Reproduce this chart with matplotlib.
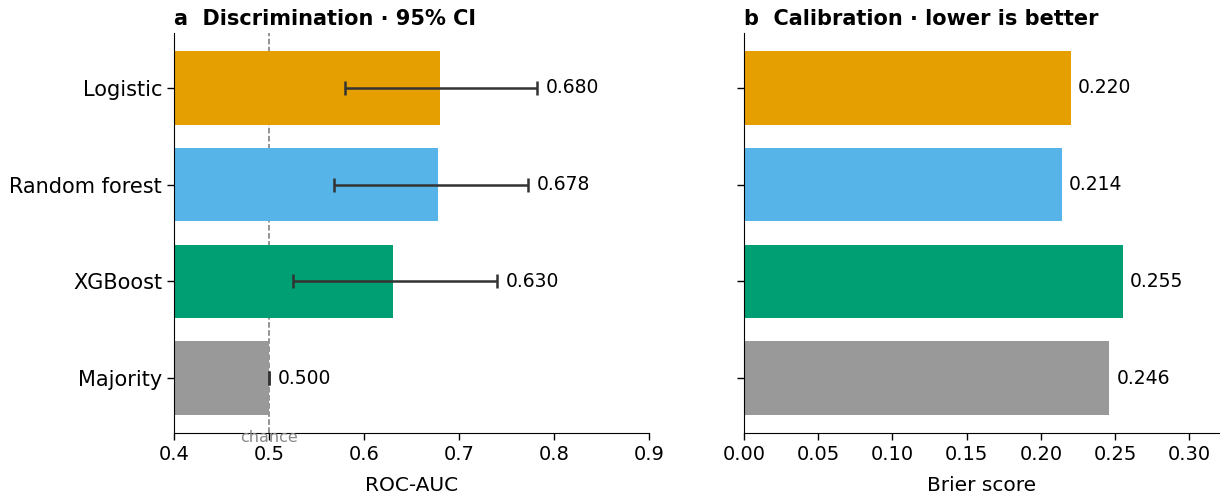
import matplotlib
matplotlib.use("Agg")
import matplotlib.pyplot as plt
import numpy as np

models = ["Logistic", "Random forest", "XGBoost", "Majority"]
auc = [0.680, 0.678, 0.630, 0.500]
ci_low = [0.580, 0.568, 0.525, 0.500]
ci_high = [0.782, 0.773, 0.740, 0.500]
brier = [0.220, 0.214, 0.255, 0.246]
colors = ["#E69F00", "#56B4E9", "#009E73", "#999999"]

fig = plt.figure(figsize=(12.25, 4.99), dpi=100)
ax1 = fig.add_axes([174/1225, 1-433/499, 475/1225, 400/499])
ax2 = fig.add_axes([744/1225, 1-433/499, 475/1225, 400/499])

y = np.arange(len(models))
auc_a = np.array(auc)
lo = auc_a - np.array(ci_low)
hi = np.array(ci_high) - auc_a

ax1.axvline(0.5, color="#777777", ls="--", lw=1.1, zorder=0)
ax1.barh(y, auc, height=0.76, color=colors, zorder=2)
ax1.errorbar(auc, y, xerr=[lo, hi], fmt="none", ecolor="#333333",
             elinewidth=1.8, capsize=5, capthick=1.8, zorder=3)
for yi, v, h in zip(y, auc, ci_high):
    ax1.text(h + 0.009, yi, f"{v:.3f}", va="center", ha="left", fontsize=13.5)
ax1.set_xlim(0.4, 0.9)
ax1.set_yticks(y)
ax1.set_yticklabels(models, fontsize=15)
ax1.invert_yaxis()
ax1.set_xlabel("ROC-AUC", fontsize=14.5, labelpad=9)
ax1.tick_params(axis="x", labelsize=14)
ax1.set_title("a  Discrimination · 95% CI", loc="left", fontweight="bold", fontsize=15, pad=6)
ylo = ax1.get_ylim()[0]
ax1.annotate("chance", xy=(0.5, ylo), xytext=(0, -3), textcoords="offset points",
             ha="center", va="center", color="#888888", fontsize=11.5,
             zorder=5, annotation_clip=False)

ax2.barh(y, brier, height=0.76, color=colors, zorder=2)
for yi, v in zip(y, brier):
    ax2.text(v + 0.005, yi, f"{v:.3f}", va="center", ha="left", fontsize=13.5)
ax2.set_xlim(0, 0.32)
ax2.set_xticks([0, 0.05, 0.10, 0.15, 0.20, 0.25, 0.30])
ax2.set_xticklabels(["0.00", "0.05", "0.10", "0.15", "0.20", "0.25", "0.30"])
ax2.set_yticks(y)
ax2.set_yticklabels([])
ax2.set_ylim(ax1.get_ylim())
ax2.set_xlabel("Brier score", fontsize=14.5, labelpad=9)
ax2.tick_params(axis="x", labelsize=14)
ax2.set_title("b  Calibration · lower is better", loc="left", fontweight="bold", fontsize=15, pad=6)

for ax in (ax1, ax2):
    ax.spines["top"].set_visible(False)
    ax.spines["right"].set_visible(False)
    ax.tick_params(length=5, width=1)

fig.savefig("out.png", dpi=100)
